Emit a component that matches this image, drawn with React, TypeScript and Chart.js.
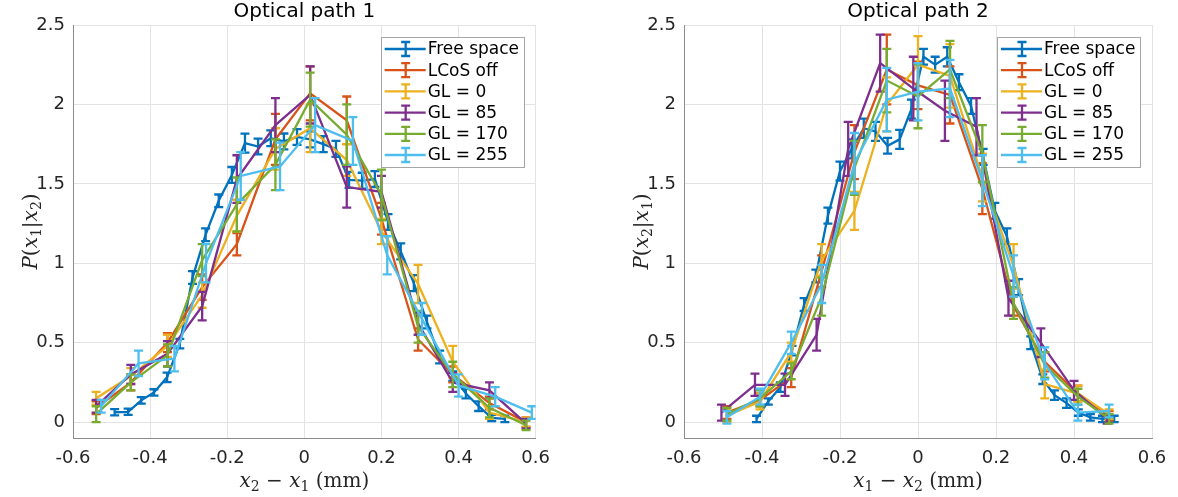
import React, { useEffect, useRef } from "react";
import { Chart, registerables } from "chart.js";

Chart.register(...registerables);

// ---------- shared ----------
const SERIES_NAMES = ["Free space", "LCoS off", "GL = 0", "GL = 85", "GL = 170", "GL = 255"];
const COLORS = ["#0072BD", "#D95319", "#EDB120", "#7E2F8E", "#77AC30", "#4DBEEE"];
const X_TICKS = [-0.6, -0.4, -0.2, 0, 0.2, 0.4, 0.6];
const Y_TICKS = [0, 0.5, 1, 1.5, 2, 2.5];

// ---------- Optical path 1 ----------
const L_FREE_X = [-0.492, -0.457, -0.423, -0.39, -0.356, -0.323, -0.29, -0.256, -0.222, -0.188, -0.154, -0.12, -0.087, -0.053, -0.019, 0.015, 0.049, 0.082, 0.116, 0.15, 0.183, 0.217, 0.25, 0.284, 0.318, 0.351, 0.385, 0.419, 0.452, 0.486, 0.52];
const L_FREE_Y = [0.062, 0.065, 0.137, 0.187, 0.282, 0.494, 0.91, 1.18, 1.393, 1.556, 1.756, 1.735, 1.787, 1.767, 1.795, 1.78, 1.75, 1.72, 1.525, 1.52, 1.53, 1.26, 1.075, 0.875, 0.63, 0.41, 0.29, 0.18, 0.1, 0.026, 0.02];
const L_FREE_E = [0.02, 0.02, 0.02, 0.02, 0.03, 0.03, 0.04, 0.04, 0.04, 0.05, 0.06, 0.05, 0.05, 0.05, 0.05, 0.05, 0.05, 0.05, 0.05, 0.05, 0.05, 0.05, 0.05, 0.05, 0.04, 0.04, 0.03, 0.03, 0.03, 0.02, 0.02];

const L_X = [-0.54, -0.45, -0.355, -0.265, -0.175, -0.075, 0.015, 0.11, 0.2, 0.295, 0.385, 0.48, 0.575];
const L_CYAN_X = [-0.527, -0.43, -0.337, -0.255, -0.165, -0.063, 0.028, 0.126, 0.215, 0.305, 0.4, 0.495, 0.59];

const L_LCOS_Y = [0.09, 0.25, 0.5, 0.85, 1.12, 1.78, 2.07, 1.9, 1.28, 0.52, 0.3, 0.12, 0.0];
const L_LCOS_E = [0.04, 0.05, 0.06, 0.08, 0.07, 0.16, 0.17, 0.15, 0.1, 0.07, 0.05, 0.04, 0.03];
const L_GL0_Y = [0.15, 0.29, 0.48, 0.8, 1.3, 1.72, 1.85, 1.65, 1.2, 0.87, 0.38, 0.06, 0.0];
const L_GL0_E = [0.04, 0.05, 0.07, 0.08, 0.1, 0.13, 0.15, 0.1, 0.08, 0.12, 0.1, 0.04, 0.03];
const L_GL85_Y = [0.1, 0.3, 0.43, 0.73, 1.53, 1.87, 2.06, 1.48, 1.45, 0.62, 0.25, 0.2, -0.01];
const L_GL85_E = [0.04, 0.06, 0.08, 0.09, 0.15, 0.17, 0.18, 0.13, 0.1, 0.07, 0.06, 0.05, 0.03];
const L_GL170_Y = [0.05, 0.25, 0.42, 1.02, 1.37, 1.62, 2.03, 1.81, 1.43, 0.6, 0.3, 0.09, -0.02];
const L_GL170_E = [0.05, 0.05, 0.07, 0.1, 0.17, 0.16, 0.17, 0.19, 0.16, 0.1, 0.08, 0.06, 0.03];
const L_GL255_Y = [0.1, 0.37, 0.4, 1.0, 1.55, 1.61, 1.87, 1.77, 1.05, 0.65, 0.23, 0.16, 0.06];
const L_GL255_E = [0.04, 0.08, 0.08, 0.12, 0.15, 0.15, 0.17, 0.15, 0.12, 0.1, 0.07, 0.06, 0.04];

// ---------- Optical path 2 ----------
const R_FREE_X = [-0.414, -0.384, -0.353, -0.323, -0.292, -0.262, -0.231, -0.2, -0.17, -0.139, -0.109, -0.078, -0.047, -0.017, 0.014, 0.044, 0.075, 0.105, 0.136, 0.167, 0.197, 0.228, 0.258, 0.289, 0.32, 0.35, 0.381, 0.411, 0.442, 0.473, 0.503];
const R_FREE_Y = [0.02, 0.13, 0.22, 0.45, 0.74, 0.92, 1.3, 1.58, 1.72, 1.85, 1.83, 1.74, 1.78, 1.97, 2.3, 2.25, 2.3, 2.14, 1.99, 1.67, 1.33, 1.17, 0.85, 0.5, 0.27, 0.17, 0.12, 0.06, 0.03, 0.02, 0.02];
const R_FREE_E = [0.02, 0.02, 0.03, 0.03, 0.04, 0.04, 0.05, 0.06, 0.06, 0.06, 0.06, 0.05, 0.06, 0.06, 0.05, 0.05, 0.06, 0.05, 0.05, 0.05, 0.05, 0.05, 0.05, 0.04, 0.03, 0.03, 0.03, 0.02, 0.02, 0.02, 0.02];

const R_X = [-0.49, -0.405, -0.325, -0.247, -0.163, -0.08, 0.0, 0.082, 0.165, 0.245, 0.325, 0.41, 0.49];
const R_PURPLE_X = [-0.504, -0.418, -0.341, -0.26, -0.179, -0.097, -0.012, 0.069, 0.15, 0.232, 0.315, 0.4, 0.485];

const R_LCOS_Y = [0.06, 0.14, 0.28, 0.95, 1.7, 2.22, 2.12, 2.06, 1.47, 0.73, 0.38, 0.18, 0.04];
const R_LCOS_E = [0.04, 0.04, 0.06, 0.1, 0.17, 0.22, 0.15, 0.18, 0.16, 0.06, 0.06, 0.05, 0.03];
const R_GL0_Y = [0.04, 0.13, 0.44, 1.02, 1.33, 2.0, 2.25, 2.18, 1.54, 0.98, 0.24, 0.18, 0.05];
const R_GL0_E = [0.04, 0.05, 0.06, 0.1, 0.12, 0.17, 0.18, 0.2, 0.15, 0.14, 0.09, 0.05, 0.03];
const R_GL85_Y = [0.06, 0.235, 0.235, 0.55, 1.72, 2.26, 2.1, 1.96, 1.86, 0.78, 0.5, 0.2, 0.02];
const R_GL85_E = [0.05, 0.07, 0.07, 0.1, 0.17, 0.18, 0.2, 0.19, 0.18, 0.11, 0.09, 0.06, 0.03];
const R_GL170_Y = [0.05, 0.15, 0.32, 0.79, 1.6, 2.15, 2.05, 2.22, 1.69, 0.75, 0.36, 0.16, 0.02];
const R_GL170_E = [0.04, 0.05, 0.05, 0.12, 0.17, 0.2, 0.2, 0.18, 0.18, 0.1, 0.08, 0.05, 0.03];
const R_GL255_Y = [0.03, 0.16, 0.5, 0.87, 1.63, 2.03, 2.08, 2.1, 1.52, 0.92, 0.37, 0.06, 0.07];
const R_GL255_E = [0.04, 0.05, 0.07, 0.12, 0.19, 0.2, 0.18, 0.18, 0.16, 0.13, 0.1, 0.05, 0.04];

type Seg = { t: string; it?: boolean; sub?: boolean };
type Series = { x: number[]; y: number[]; e: number[] };
type PanelDef = {
  title: string;
  xLabel: Seg[];
  yLabel: Seg[];
  series: Series[];
  yAxisWidth: number;
  padRight: number;
};

const PANEL_1: PanelDef = {
  title: "Optical path 1",
  xLabel: [{ t: "x", it: true }, { t: "2", sub: true }, { t: " − " }, { t: "x", it: true }, { t: "1", sub: true }, { t: " (mm)" }],
  yLabel: [{ t: "P", it: true }, { t: "(" }, { t: "x", it: true }, { t: "1", sub: true }, { t: "|" }, { t: "x", it: true }, { t: "2", sub: true }, { t: ")" }],
  series: [
    { x: L_FREE_X, y: L_FREE_Y, e: L_FREE_E },
    { x: L_X, y: L_LCOS_Y, e: L_LCOS_E },
    { x: L_X, y: L_GL0_Y, e: L_GL0_E },
    { x: L_X, y: L_GL85_Y, e: L_GL85_E },
    { x: L_X, y: L_GL170_Y, e: L_GL170_E },
    { x: L_CYAN_X, y: L_GL255_Y, e: L_GL255_E },
  ],
  yAxisWidth: 73,
  padRight: 21,
};

const PANEL_2: PanelDef = {
  title: "Optical path 2",
  xLabel: [{ t: "x", it: true }, { t: "1", sub: true }, { t: " − " }, { t: "x", it: true }, { t: "2", sub: true }, { t: " (mm)" }],
  yLabel: [{ t: "P", it: true }, { t: "(" }, { t: "x", it: true }, { t: "2", sub: true }, { t: "|" }, { t: "x", it: true }, { t: "1", sub: true }, { t: ")" }],
  series: [
    { x: R_FREE_X, y: R_FREE_Y, e: R_FREE_E },
    { x: R_X, y: R_LCOS_Y, e: R_LCOS_E },
    { x: R_X, y: R_GL0_Y, e: R_GL0_E },
    { x: R_PURPLE_X, y: R_GL85_Y, e: R_GL85_E },
    { x: R_X, y: R_GL170_Y, e: R_GL170_E },
    { x: R_X, y: R_GL255_Y, e: R_GL255_E },
  ],
  yAxisWidth: 84,
  padRight: 26,
};

const TICK_FONT = { family: "'DejaVu Sans', sans-serif", size: 18 };
const TICK_COLOR = "#262626";
const GRID_COLOR = "#e3e3e3";
const AXIS_COLOR = "#8c8c8c";
const LINE_W = 2.3;

function drawRich(ctx: CanvasRenderingContext2D, segs: Seg[], cx: number, cy: number, rot: boolean) {
  const size = 20;
  const fontFor = (s: Seg) => `${s.it ? "italic " : ""}${s.sub ? Math.round(size * 0.7) : size}px 'DejaVu Serif', serif`;
  let total = 0;
  const widths = segs.map((s) => {
    ctx.font = fontFor(s);
    const w = ctx.measureText(s.t).width;
    total += w;
    return w;
  });
  ctx.save();
  ctx.translate(cx, cy);
  if (rot) ctx.rotate(-Math.PI / 2);
  ctx.textBaseline = "alphabetic";
  ctx.textAlign = "left";
  ctx.fillStyle = "#262626";
  let x = -total / 2;
  const base = size * 0.35;
  segs.forEach((s, i) => {
    ctx.font = fontFor(s);
    ctx.fillText(s.t, x, base + (s.sub ? size * 0.22 : 0));
    x += widths[i];
  });
  ctx.restore();
}

const errorBarPlugin = {
  id: "errbars",
  afterDatasetDraw(chart: any, args: any) {
    const ds = chart.data.datasets[args.index];
    const errs: number[] | undefined = ds.errs;
    if (!errs) return;
    const ctx: CanvasRenderingContext2D = chart.ctx;
    const xs = chart.scales.x;
    const ys = chart.scales.y;
    const ca = chart.chartArea;
    ctx.save();
    ctx.beginPath();
    ctx.rect(ca.left, ca.top, ca.right - ca.left, ca.bottom - ca.top);
    ctx.clip();
    ctx.strokeStyle = ds.borderColor;
    ctx.lineWidth = LINE_W;
    ctx.lineCap = "butt";
    ds.data.forEach((p: { x: number; y: number }, i: number) => {
      const px = xs.getPixelForValue(p.x);
      const yTop = ys.getPixelForValue(p.y + errs[i]);
      const yBot = ys.getPixelForValue(p.y - errs[i]);
      ctx.beginPath();
      ctx.moveTo(px, yBot);
      ctx.lineTo(px, yTop);
      ctx.moveTo(px - 4.5, yBot);
      ctx.lineTo(px + 4.5, yBot);
      ctx.moveTo(px - 4.5, yTop);
      ctx.lineTo(px + 4.5, yTop);
      ctx.stroke();
    });
    ctx.restore();
  },
};

function makeDecoPlugin(p: PanelDef) {
  return {
    id: "deco",
    afterDraw(chart: any) {
      const ctx: CanvasRenderingContext2D = chart.ctx;
      const ca = chart.chartArea;
      const midX = (ca.left + ca.right) / 2;
      const midY = (ca.top + ca.bottom) / 2;
      // title
      ctx.save();
      ctx.font = "20px 'DejaVu Sans', sans-serif";
      ctx.fillStyle = "#000";
      ctx.textAlign = "center";
      ctx.textBaseline = "middle";
      ctx.fillText(p.title, midX, 12);
      ctx.restore();
      // axis labels
      drawRich(ctx, p.xLabel, midX, ca.bottom + 42, false);
      drawRich(ctx, p.yLabel, ca.left - 43, midY, true);
      // legend
      const bw = 143;
      const bh = 130;
      const bx = ca.right - 12 - bw;
      const by = ca.top + 12;
      ctx.save();
      ctx.fillStyle = "#fff";
      ctx.fillRect(bx, by, bw, bh);
      ctx.strokeStyle = "#a6a6a6";
      ctx.lineWidth = 1;
      ctx.strokeRect(Math.round(bx) + 0.5, Math.round(by) + 0.5, bw, bh);
      ctx.font = "17px 'DejaVu Sans', sans-serif";
      ctx.textAlign = "left";
      ctx.textBaseline = "middle";
      SERIES_NAMES.forEach((name, i) => {
        const cy = by + 12 + 21.2 * i;
        ctx.strokeStyle = COLORS[i];
        ctx.lineWidth = LINE_W;
        ctx.beginPath();
        ctx.moveTo(bx + 4, cy);
        ctx.lineTo(bx + 45, cy);
        const ex = bx + 25;
        ctx.moveTo(ex, cy - 7);
        ctx.lineTo(ex, cy + 7);
        ctx.moveTo(ex - 4.5, cy - 7);
        ctx.lineTo(ex + 4.5, cy - 7);
        ctx.moveTo(ex - 4.5, cy + 7);
        ctx.lineTo(ex + 4.5, cy + 7);
        ctx.stroke();
        ctx.fillStyle = "#000";
        ctx.fillText(name, bx + 47, cy + 1);
      });
      ctx.restore();
    },
  };
}

function buildConfig(p: PanelDef): any {
  const datasets = p.series.map((s, i) => ({
    label: SERIES_NAMES[i],
    data: s.x.map((x, k) => ({ x, y: s.y[k] })),
    errs: s.e,
    borderColor: COLORS[i],
    backgroundColor: COLORS[i],
    borderWidth: LINE_W,
    pointRadius: 0,
    pointHoverRadius: 0,
    showLine: true,
    tension: 0,
    fill: false,
    order: 10 - i,
  }));
  return {
    type: "line",
    data: { datasets },
    options: {
      animation: false,
      responsive: false,
      events: [],
      layout: { padding: { left: 0, right: p.padRight, top: 25, bottom: 0 } },
      plugins: { legend: { display: false }, tooltip: { enabled: false } },
      scales: {
        x: {
          type: "linear",
          min: -0.6,
          max: 0.6,
          afterBuildTicks: (s: any) => {
            s.ticks = X_TICKS.map((v) => ({ value: v }));
          },
          afterFit: (s: any) => {
            s.height = 59;
          },
          grid: { color: GRID_COLOR, drawTicks: false, lineWidth: 1 },
          border: { display: true, color: AXIS_COLOR, width: 1 },
          ticks: {
            padding: 10,
            font: TICK_FONT,
            color: TICK_COLOR,
            autoSkip: false,
            maxRotation: 0,
            callback: (v: number) => String(v),
          },
        },
        y: {
          type: "linear",
          min: -0.1,
          max: 2.5,
          afterBuildTicks: (s: any) => {
            s.ticks = Y_TICKS.map((v) => ({ value: v }));
          },
          afterFit: (s: any) => {
            s.width = p.yAxisWidth;
          },
          grid: { color: GRID_COLOR, drawTicks: false, lineWidth: 1 },
          border: { display: true, color: AXIS_COLOR, width: 1 },
          ticks: {
            padding: 8,
            font: TICK_FONT,
            color: TICK_COLOR,
            autoSkip: false,
            callback: (v: number) => String(v),
          },
        },
      },
    },
    plugins: [errorBarPlugin, makeDecoPlugin(p)],
  };
}

function Panel({ panel, left, width }: { panel: PanelDef; left: number; width: number }) {
  const ref = useRef<HTMLCanvasElement>(null);
  useEffect(() => {
    const chart = new Chart(ref.current as HTMLCanvasElement, buildConfig(panel));
    return () => chart.destroy();
  }, [panel]);
  return (
    <canvas
      ref={ref}
      width={width}
      height={497}
      style={{ position: "absolute", left, top: 0, width, height: 497 }}
    />
  );
}

export default function App() {
  return (
    <div style={{ position: "absolute", left: 0, top: 0, width: 1178, height: 497, background: "#fff", overflow: "hidden" }}>
      <Panel panel={PANEL_1} left={0} width={560} />
      <Panel panel={PANEL_2} left={600} width={578} />
    </div>
  );
}
